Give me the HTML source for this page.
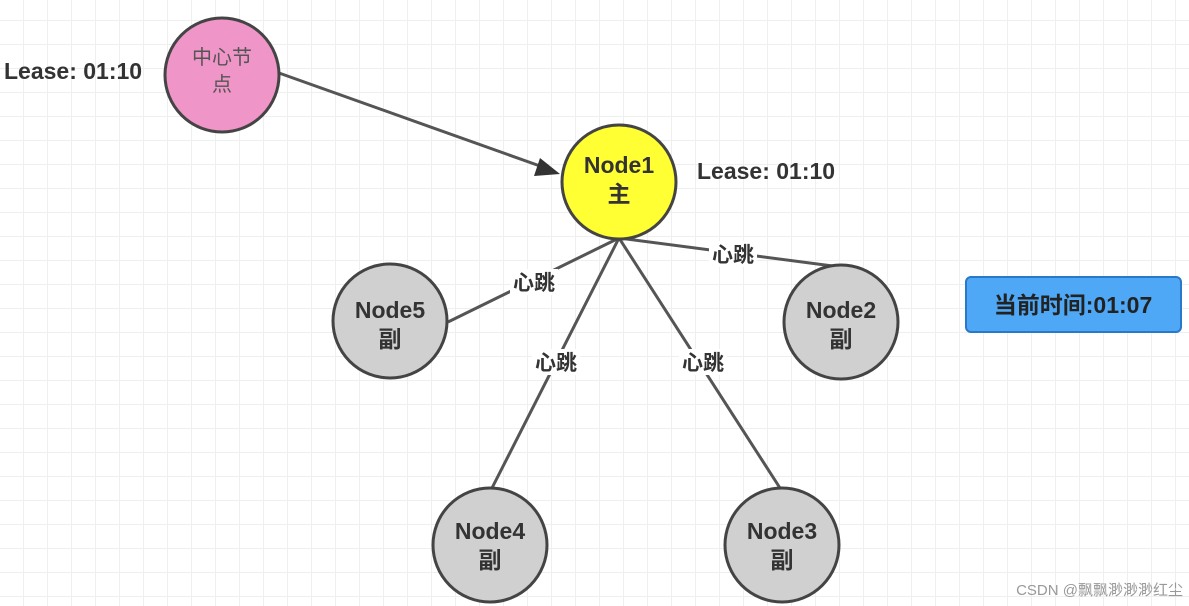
<!DOCTYPE html>
<html><head><meta charset="utf-8"><style>
body{margin:0;width:1189px;height:606px;overflow:hidden;background:#fff;
background-image:linear-gradient(#efefef 1px,transparent 1px),linear-gradient(90deg,#efefef 1px,transparent 1px);
background-size:24px 24px;background-position:0 -4px,-1px 0;font-family:"Liberation Sans","Noto Sans CJK SC",sans-serif}
svg{position:absolute;left:0;top:0}
</style></head><body>
<svg width="1189" height="606" font-family="Liberation Sans, Noto Sans CJK SC, sans-serif">
<g stroke="#555" stroke-width="3" fill="none">
<line x1="279" y1="73" x2="540" y2="166"/>
<line x1="619" y1="238" x2="448" y2="322"/>
<line x1="619" y1="238" x2="492" y2="488"/>
<line x1="619" y1="238" x2="780" y2="488"/>
<line x1="619" y1="238" x2="848" y2="268"/>
</g>
<polygon points="560,174 534,176 540,158" fill="#333"/>
<g font-size="21" font-weight="bold" fill="#333" text-anchor="middle">
<rect x="510" y="269" width="48" height="26" fill="#fff"/><text x="534" y="290">心跳</text>
<rect x="532" y="349" width="48" height="26" fill="#fff"/><text x="556" y="370">心跳</text>
<rect x="679" y="349" width="48" height="26" fill="#fff"/><text x="703" y="370">心跳</text>
<rect x="709" y="241" width="48" height="26" fill="#fff"/><text x="733" y="262">心跳</text>
</g>
<g stroke="#444" stroke-width="3">
<circle cx="222" cy="75" r="57" fill="#f095c8"/>
<circle cx="619" cy="182" r="57" fill="#ffff33"/>
<circle cx="390" cy="321" r="57" fill="#d0d0d0"/>
<circle cx="841" cy="322" r="57" fill="#d0d0d0"/>
<circle cx="490" cy="545" r="57" fill="#d0d0d0"/>
<circle cx="782" cy="545" r="57" fill="#d0d0d0"/>
</g>
<g text-anchor="middle" fill="#333">
<text x="222" y="64" font-size="20" fill="#555">中心节</text>
<text x="222" y="91" font-size="20" fill="#555">点</text>
<g font-size="23" font-weight="bold">
<text x="619" y="173">Node1</text><text x="619" y="202">主</text>
<text x="390" y="318">Node5</text><text x="390" y="347">副</text>
<text x="841" y="318">Node2</text><text x="841" y="347">副</text>
<text x="490" y="539">Node4</text><text x="490" y="568">副</text>
<text x="782" y="539">Node3</text><text x="782" y="568">副</text>
</g></g>
<g font-size="23" font-weight="bold" fill="#333">
<text x="4" y="79">Lease: 01:10</text>
<text x="697" y="179">Lease: 01:10</text>
</g>
<rect x="966" y="277" width="215" height="55" rx="5" fill="#4fa8f5" stroke="#2a78c8" stroke-width="2"/>
<text x="1073" y="313" font-size="23" font-weight="bold" fill="#222" text-anchor="middle">当前时间:01:07</text>
<text x="1183" y="595" font-size="15" fill="#999" text-anchor="end">CSDN @飘飘渺渺渺红尘</text>
</svg>
</body></html>
